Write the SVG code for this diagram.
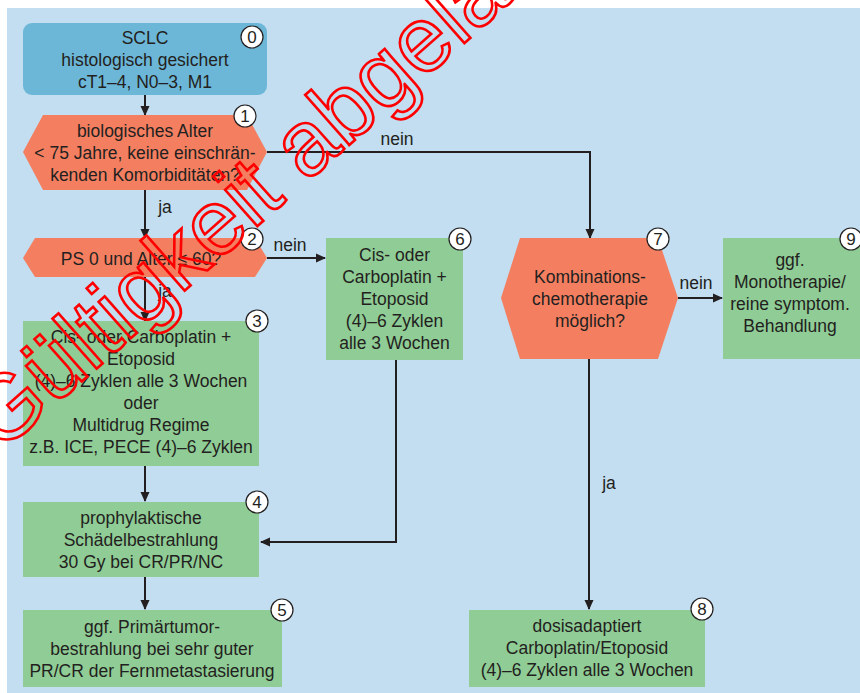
<svg xmlns="http://www.w3.org/2000/svg" width="860" height="693" viewBox="0 0 860 693">
<style>
.t{font-family:"Liberation Sans",Arial,sans-serif;font-size:17.5px;fill:#231f20;text-anchor:middle}
.b{fill:#ffffff;stroke:#231f20;stroke-width:1.2}
.bn{font-family:"Liberation Sans",Arial,sans-serif;font-size:17px;fill:#231f20;text-anchor:middle}
.blue{fill:#6cb7d8}
.or{fill:#f47f60}
.gr{fill:#90cc96}
.c{stroke:#231f20;stroke-width:2;fill:none}
.wm{font-family:"Liberation Sans",Arial,sans-serif;font-size:92px;fill:none;stroke:#ff0000;stroke-width:2.6}
</style>
<defs>
<marker id="ah" markerUnits="userSpaceOnUse" markerWidth="10" markerHeight="10" viewBox="0 0 10 10" refX="9" refY="5" orient="auto">
<path d="M0,0.5 L10,5 L0,9.5 Z" fill="#231f20"/>
</marker>
</defs>
<rect x="0" y="0" width="860" height="693" fill="#ffffff"/>
<rect x="7" y="8" width="853" height="685" fill="#c2def0"/>

<g id="connectors">
<line class="c" x1="145" y1="95" x2="145" y2="115" marker-end="url(#ah)"/>
<line class="c" x1="145" y1="190" x2="145" y2="238" marker-end="url(#ah)"/>
<line class="c" x1="145" y1="277" x2="145" y2="321" marker-end="url(#ah)"/>
<line class="c" x1="145" y1="466" x2="145" y2="501" marker-end="url(#ah)"/>
<line class="c" x1="145" y1="577" x2="145" y2="609" marker-end="url(#ah)"/>
<polyline class="c" points="267,152 590,152 590,238" marker-end="url(#ah)"/>
<line class="c" x1="267" y1="258" x2="325" y2="258" marker-end="url(#ah)"/>
<polyline class="c" points="396,360 396,542 261,542" marker-end="url(#ah)"/>
<line class="c" x1="678" y1="298" x2="722" y2="298" marker-end="url(#ah)"/>
<line class="c" x1="589" y1="359" x2="589" y2="609" marker-end="url(#ah)"/>
<text class="t" x="397" y="145">nein</text>
<text class="t" x="165" y="213">ja</text>
<text class="t" x="290" y="251">nein</text>
<text class="t" x="165" y="297">ja</text>
<text class="t" x="696" y="289">nein</text>
<text class="t" x="609" y="489">ja</text>
</g>

<g id="node0">
<rect class="blue" x="23" y="23" width="244" height="72" rx="9"/>
<text class="t" x="145" y="44">SCLC</text>
<text class="t" x="145" y="66">histologisch gesichert</text>
<text class="t" x="145" y="88">cT1–4, N0–3, M1</text>
<circle class="b" cx="252" cy="37" r="11"/><text class="bn" x="252" y="43">0</text>
</g>

<g id="node1">
<polygon class="or" points="23,152 43,115 247,115 267,152 247,190 43,190"/>
<text class="t" x="145" y="137">biologisches Alter</text>
<text class="t" x="145" y="159">&lt; 75 Jahre, keine einschrän-</text>
<text class="t" x="145" y="181">kenden Komorbiditäten?</text>
<circle class="b" cx="245" cy="116" r="11"/><text class="bn" x="245" y="122">1</text>
</g>

<g id="node2">
<polygon class="or" points="23,258 35,238 255,238 267,258 255,277 35,277"/>
<text class="t" x="141" y="265">PS 0 und Alter ≤ 60?</text>
<circle class="b" cx="252" cy="239" r="11"/><text class="bn" x="252" y="245">2</text>
</g>

<g id="node3">
<rect class="gr" x="23" y="321" width="236" height="145"/>
<text class="t" x="141" y="343">Cis- oder Carboplatin +</text>
<text class="t" x="141" y="365">Etoposid</text>
<text class="t" x="141" y="387">(4)–6 Zyklen alle 3 Wochen</text>
<text class="t" x="141" y="409">oder</text>
<text class="t" x="141" y="431">Multidrug Regime</text>
<text class="t" x="141" y="453">z.B. ICE, PECE (4)–6 Zyklen</text>
<circle class="b" cx="257" cy="321" r="11"/><text class="bn" x="257" y="327">3</text>
</g>

<g id="node4">
<rect class="gr" x="23" y="502" width="236" height="75"/>
<text class="t" x="141" y="524">prophylaktische</text>
<text class="t" x="141" y="546">Schädelbestrahlung</text>
<text class="t" x="141" y="568">30 Gy bei CR/PR/NC</text>
<circle class="b" cx="257" cy="502" r="11"/><text class="bn" x="257" y="508">4</text>
</g>

<g id="node5">
<rect class="gr" x="23" y="610" width="259" height="77"/>
<text class="t" x="152" y="633">ggf. Primärtumor-</text>
<text class="t" x="152" y="655">bestrahlung bei sehr guter</text>
<text class="t" x="152" y="677">PR/CR der Fernmetastasierung</text>
<circle class="b" cx="282" cy="610" r="11"/><text class="bn" x="282" y="616">5</text>
</g>

<g id="node6">
<rect class="gr" x="326" y="238" width="137" height="122"/>
<text class="t" x="394.5" y="261">Cis- oder</text>
<text class="t" x="394.5" y="283">Carboplatin +</text>
<text class="t" x="394.5" y="305">Etoposid</text>
<text class="t" x="394.5" y="327">(4)–6 Zyklen</text>
<text class="t" x="394.5" y="349">alle 3 Wochen</text>
<circle class="b" cx="460" cy="239" r="11"/><text class="bn" x="460" y="245">6</text>
</g>

<g id="node7">
<polygon class="or" points="501,298 520,238 658,238 678,298 658,359 520,359"/>
<text class="t" x="590" y="283">Kombinations-</text>
<text class="t" x="590" y="305">chemotherapie</text>
<text class="t" x="590" y="327">möglich?</text>
<circle class="b" cx="658" cy="239" r="11"/><text class="bn" x="658" y="245">7</text>
</g>

<g id="node8">
<rect class="gr" x="469" y="610" width="236" height="77"/>
<text class="t" x="587" y="632">dosisadaptiert</text>
<text class="t" x="587" y="654">Carboplatin/Etoposid</text>
<text class="t" x="587" y="676">(4)–6 Zyklen alle 3 Wochen</text>
<circle class="b" cx="702" cy="609" r="11"/><text class="bn" x="702" y="615">8</text>
</g>

<g id="node9">
<rect class="gr" x="723" y="238" width="137" height="121"/>
<text class="t" x="790" y="266">ggf.</text>
<text class="t" x="790" y="288">Monotherapie/</text>
<text class="t" x="790" y="310">reine symptom.</text>
<text class="t" x="790" y="332">Behandlung</text>
<circle class="b" cx="851" cy="239" r="11"/><text class="bn" x="851" y="245">9</text>
</g>

<text class="wm" x="0" y="454" transform="rotate(-41.5 0 454)">Gültigkeit abgelaufen</text>
</svg>
